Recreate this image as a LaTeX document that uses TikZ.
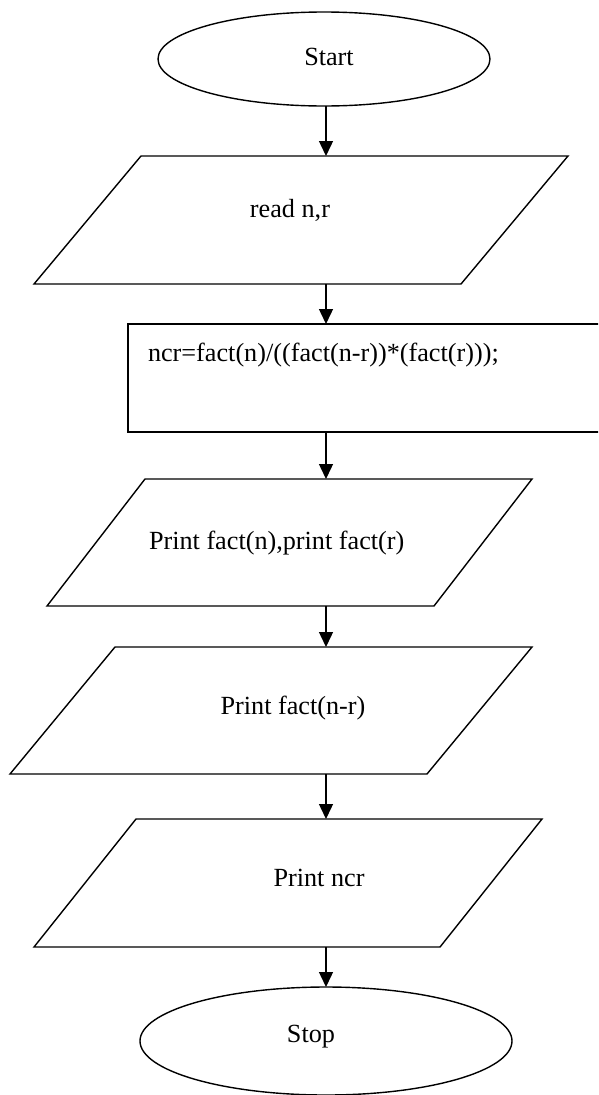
\documentclass[tikz,border=0pt]{standalone}
\usepackage{fontspec}
\setmainfont{Liberation Serif}
\usetikzlibrary{shapes.geometric,arrows.meta}
\begin{document}
\begin{tikzpicture}[x=1pt,y=-1pt,
  every node/.style={inner sep=0pt, outer sep=0pt},
  arr/.style={line width=1.4pt, -{Triangle[length=15pt,width=14pt]}},
  term/.style={ellipse, draw, line width=1.4pt},
  frame/.style={rectangle},
  outline/.style={draw, line width=1.4pt, line join=miter},
  proc/.style={rectangle, draw, line width=1.4pt},
  lbl/.style={font=\fontsize{26.2}{30}\selectfont}]
\useasboundingbox (0,0) rectangle (598,1095);
\clip (0,0) rectangle (598,1095);

% terminals
\node[term, minimum width=332pt, minimum height=94pt] (start) at (324,59) {};
\node[lbl] (startT) at (329,57) {Start};

% input (parallelogram drawn inside its frame node)
\node[frame, minimum width=534pt, minimum height=128pt] (read) at (301,220) {};
\draw[outline] ([xshift=107pt]read.north west) -- (read.north east)
  -- ([xshift=-107pt]read.south east) -- (read.south west) -- cycle;
\node[lbl] (readT) at (290,210) {read n,r};

% computation
\node[proc, minimum width=482pt, minimum height=108pt] (calc) at (369,378) {};
\node[lbl, anchor=west] (calcT) at (148,355) {ncr=fact(n)/((fact(n-r))*(fact(r)));};

% outputs
\node[frame, minimum width=485pt, minimum height=127pt] (out1) at (289.5,542.5) {};
\draw[outline] ([xshift=98pt]out1.north west) -- (out1.north east)
  -- ([xshift=-98pt]out1.south east) -- (out1.south west) -- cycle;
\node[lbl, anchor=west] (out1T) at (149,543) {Print fact(n),print fact(r)};

\node[frame, minimum width=522pt, minimum height=127pt] (out2) at (271,710.5) {};
\draw[outline] ([xshift=105pt]out2.north west) -- (out2.north east)
  -- ([xshift=-105pt]out2.south east) -- (out2.south west) -- cycle;
\node[lbl] (out2T) at (293,708) {Print fact(n-r)};

\node[frame, minimum width=508pt, minimum height=128pt] (out3) at (288,883) {};
\draw[outline] ([xshift=102pt]out3.north west) -- (out3.north east)
  -- ([xshift=-102pt]out3.south east) -- (out3.south west) -- cycle;
\node[lbl] (out3T) at (319,878) {Print ncr};

\node[term, minimum width=372pt, minimum height=108pt] (stop) at (326,1041) {};
\node[lbl] (stopT) at (311,1037) {Stop};

% flow
\coordinate (axis) at (326,0);
\draw[arr] (axis |- start.south) -- (axis |- read.north);
\draw[arr] (axis |- read.south) -- (axis |- calc.north);
\draw[arr] (axis |- calc.south) -- (axis |- out1.north);
\draw[arr] (axis |- out1.south) -- (axis |- out2.north);
\draw[arr] (axis |- out2.south) -- (axis |- out3.north);
\draw[arr] (axis |- out3.south) -- (axis |- stop.north);
\end{tikzpicture}
\end{document}
